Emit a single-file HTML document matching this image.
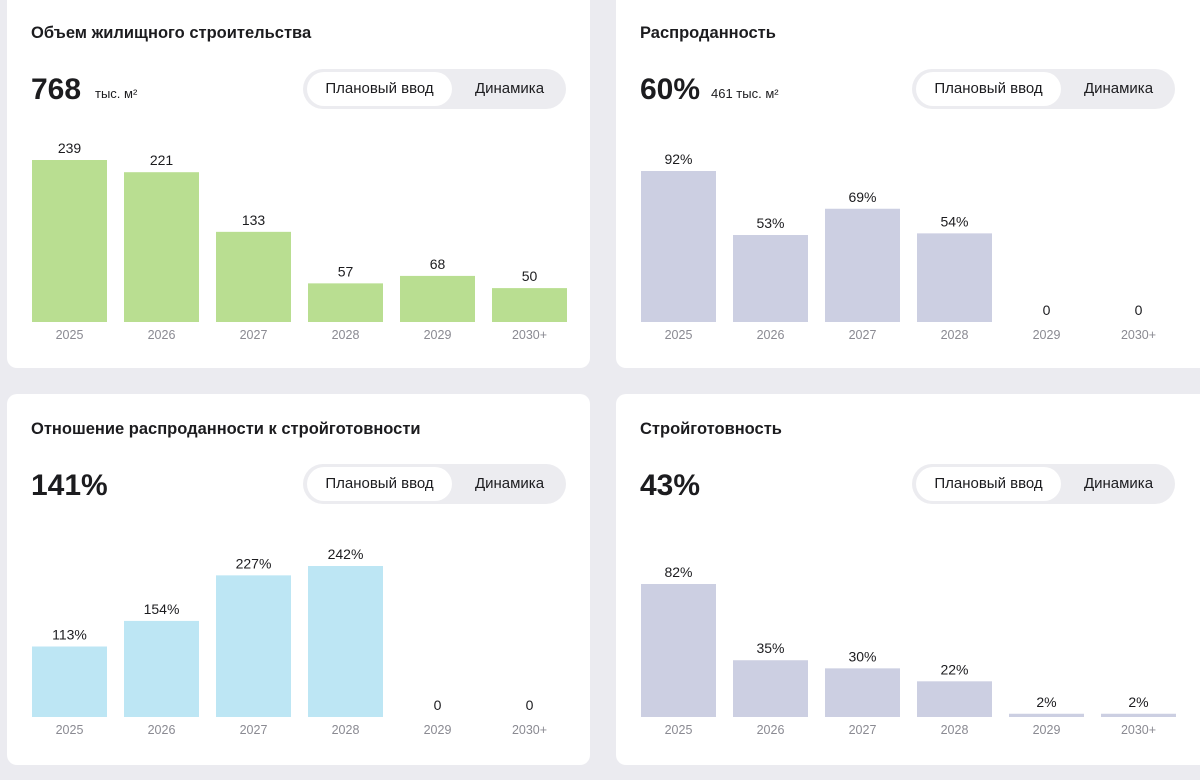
<!DOCTYPE html>
<html><head><meta charset="utf-8">
<style>
body{margin:0;width:1200px;height:780px;background:#ebebf0;font-family:"Liberation Sans",sans-serif;position:relative;overflow:hidden;color:#1c1c1f}
.card{position:absolute;background:#fff;border-radius:10px}
.title{position:absolute;font-size:16.5px;font-weight:bold;color:#1c1c1f}
.big{position:absolute;font-size:30px;font-weight:bold}
.unit{position:absolute;font-size:13px}
.pill{position:absolute;width:263px;height:40px;background:#ececf0;border-radius:20px}
.pill .on{position:absolute;left:4px;top:3px;width:145px;height:34px;background:#fff;border-radius:17px;font-size:15px;line-height:34px;text-align:center}
.pill .off{position:absolute;left:150px;top:0;width:113px;height:40px;font-size:15px;line-height:40px;text-align:center}
svg{position:absolute;left:0;top:0}
</style></head><body>
<div class="card" style="left:7px;top:-10px;width:583px;height:378px"></div>
<div class="card" style="left:616px;top:-10px;width:600px;height:378px"></div>
<div class="card" style="left:7px;top:394px;width:583px;height:371px"></div>
<div class="card" style="left:616px;top:394px;width:600px;height:371px"></div>

<div class="title" style="left:31px;top:24px">Объем жилищного строительства</div>
<div class="title" style="left:640px;top:24px">Распроданность</div>
<div class="title" style="left:31px;top:420px">Отношение распроданности к стройготовности</div>
<div class="title" style="left:640px;top:420px">Стройготовность</div>

<div class="big" style="left:31px;top:73px">768</div>
<div class="unit" style="left:95px;top:86px">тыс. м²</div>
<div class="big" style="left:640px;top:73px">60%</div>
<div class="unit" style="left:711px;top:86px">461 тыс. м²</div>
<div class="big" style="left:31px;top:469px">141%</div>
<div class="big" style="left:640px;top:469px">43%</div>

<div class="pill" style="left:303px;top:69px"><div class="on">Плановый ввод</div><div class="off">Динамика</div></div>
<div class="pill" style="left:912px;top:69px"><div class="on">Плановый ввод</div><div class="off">Динамика</div></div>
<div class="pill" style="left:303px;top:464px"><div class="on">Плановый ввод</div><div class="off">Динамика</div></div>
<div class="pill" style="left:912px;top:464px"><div class="on">Плановый ввод</div><div class="off">Динамика</div></div>

<svg id="s" width="1200" height="780"></svg>
<script>
const years=["2025","2026","2027","2028","2029","2030+"];
const volumeVals=[239,221,133,57,68,50];
const salesVals=[92,53,69,54,0,0];
const ratioVals=[113,154,227,242,0,0];
const readyVals=[82,35,30,22,2,2];
const NS="http://www.w3.org/2000/svg";
const svg=document.getElementById('s');
function draw(vals,x0,base,scale,color,suffix,name){
  vals.forEach((v,i)=>{
    const x=x0+i*92, h=v*scale, top=base-h;
    if(v>0){
      const r=document.createElementNS(NS,'rect');
      r.setAttribute('x',x);r.setAttribute('y',top);r.setAttribute('width',75);r.setAttribute('height',Math.max(h,3));r.setAttribute('fill',color);
      
      
      svg.appendChild(r);
    }
    const t=document.createElementNS(NS,'text');
    t.setAttribute('x',x+37.5);t.setAttribute('y',(v>0?top:base)-7);t.setAttribute('text-anchor','middle');t.setAttribute('font-size','14');t.setAttribute('fill','#1c1c1f');t.setAttribute('font-family','Liberation Sans');
    t.textContent=v>0?v+suffix:'0';
    
    
    svg.appendChild(t);
    const y=document.createElementNS(NS,'text');
    y.setAttribute('x',x+37.5);y.setAttribute('y',base+17);y.setAttribute('text-anchor','middle');y.setAttribute('font-size','12.5');y.setAttribute('fill','#8a8a92');y.setAttribute('font-family','Liberation Sans');
    y.textContent=years[i];
    
    
    svg.appendChild(y);
  });
}
draw(volumeVals,32,322,162/239,'#b9de91','','volume');
draw(salesVals,641,322,151/92,'#cccfe2','%','sales');
draw(ratioVals,32,717,151/242,'#bde6f4','%','ratio');
draw(readyVals,641,717,133/82,'#cccfe2','%','readiness');
</script>
</body></html>
